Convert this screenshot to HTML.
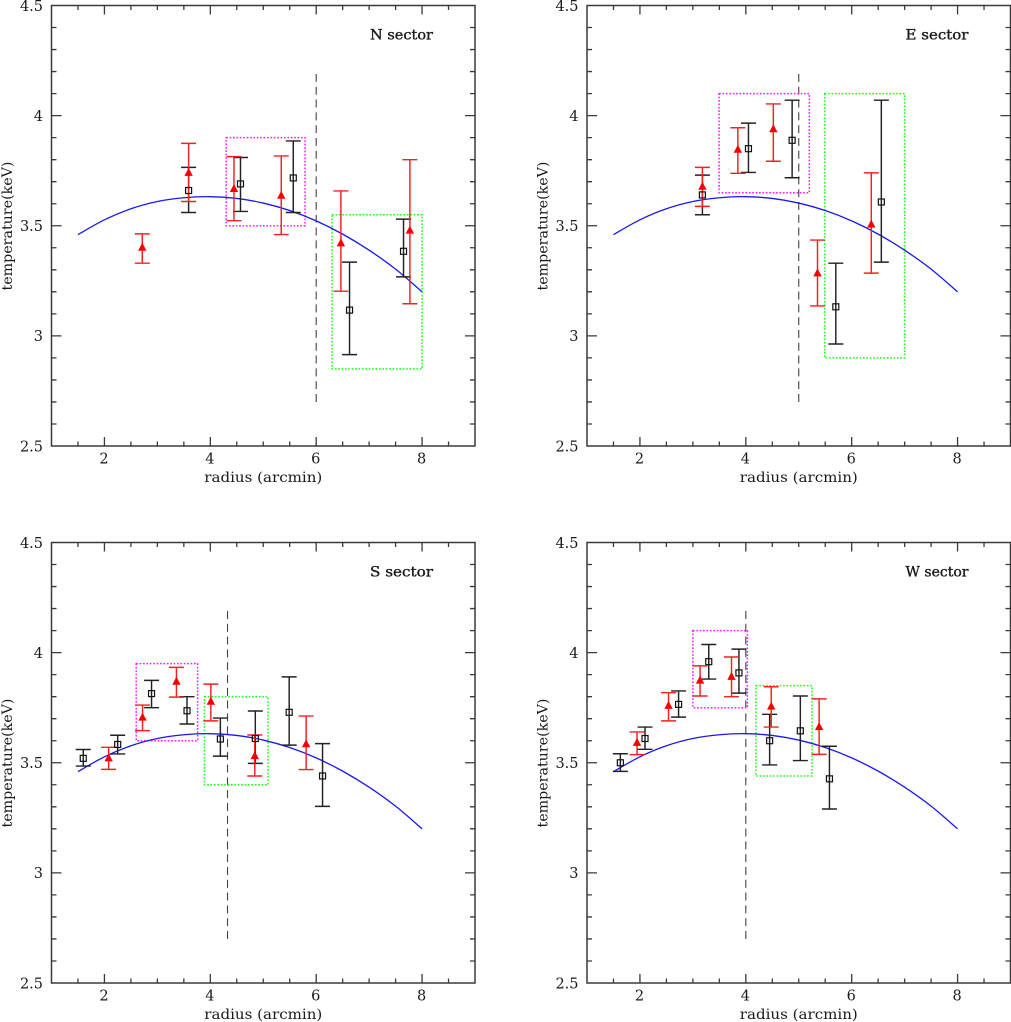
<!DOCTYPE html>
<html>
<head>
<meta charset="utf-8">
<title>Temperature profiles by sector</title>
<style>
html,body{margin:0;padding:0;background:#fff;}
svg{display:block;}
text{font-family:"DejaVu Serif","Liberation Serif",serif;fill:#1a1a1a;}
</style>
</head>
<body>
<svg id="chart" xmlns="http://www.w3.org/2000/svg" width="1011" height="1022" viewBox="0 0 1011 1022"></svg>
<script>
// Shared model curve
const curveRadius = [1.5,2,2.5,3,3.5,4,4.5,5,5.5,6,6.5,7,7.5,8];
const curveTemp = [3.46,3.527,3.577,3.61,3.627,3.632,3.624,3.603,3.569,3.522,3.462,3.389,3.303,3.2];

// Tick labels
const xTickLabels = [2,4,6,8];
const yTickLabels = ["2.5","3","3.5","4","4.5"];
const xMinorTicks = [1.5,2,2.5,3,3.5,4,4.5,5,5.5,6,6.5,7,7.5,8,8.5];
const yMinorTicks = [2.6,2.7,2.8,2.9,3,3.1,3.2,3.3,3.4,3.5,3.6,3.7,3.8,3.9,4,4.1,4.2,4.3,4.4];

// N sector
const nBlackR = [3.59,4.57,5.567,6.63,7.65];
const nBlackT = [3.66,3.69,3.717,3.117,3.384];
const nBlackLo = [3.56,3.565,3.56,2.915,3.268];
const nBlackHi = [3.765,3.81,3.885,3.335,3.53];
const nRedR = [2.715,3.59,4.447,5.34,6.467,7.77];
const nRedT = [3.40,3.74,3.667,3.636,3.42,3.478];
const nRedLo = [3.33,3.61,3.523,3.46,3.203,3.146];
const nRedHi = [3.463,3.874,3.814,3.817,3.658,3.80];
const nMagentaBox = [4.3,5.79,3.5,3.9];
const nGreenBox = [6.3,8,2.85,3.55];
const nDashR = 6;

// E sector
const eBlackR = [3.18,4.05,4.875,5.70,6.56];
const eBlackT = [3.64,3.85,3.888,3.132,3.608];
const eBlackLo = [3.55,3.742,3.718,2.963,3.335];
const eBlackHi = [3.73,3.966,4.07,3.33,4.07];
const eRedR = [3.18,3.85,4.52,5.354,6.37];
const eRedT = [3.677,3.845,3.938,3.284,3.505];
const eRedLo = [3.588,3.738,3.793,3.136,3.285];
const eRedHi = [3.765,3.945,4.053,3.435,3.74];
const eMagentaBox = [3.495,5.2,3.65,4.1];
const eGreenBox = [5.49,7,2.9,4.1];
const eDashR = 5;

// S sector
const sBlackR = [1.6,2.25,2.89,3.56,4.19,4.85,5.49,6.12];
const sBlackT = [3.52,3.583,3.814,3.736,3.608,3.61,3.729,3.44];
const sBlackLo = [3.485,3.54,3.75,3.676,3.53,3.497,3.58,3.302];
const sBlackHi = [3.56,3.625,3.874,3.80,3.703,3.735,3.89,3.587];
const sRedR = [2.08,2.72,3.36,4.01,4.84,5.81];
const sRedT = [3.52,3.705,3.868,3.777,3.53,3.584];
const sRedLo = [3.47,3.646,3.798,3.69,3.44,3.469];
const sRedHi = [3.57,3.762,3.933,3.857,3.626,3.712];
const sMagentaBox = [2.6,3.76,3.6,3.95];
const sGreenBox = [3.89,5.09,3.4,3.8];
const sDashR = 4.325;

// W sector
const wBlackR = [1.63,2.096,2.73,3.30,3.87,4.45,5.03,5.58];
const wBlackT = [3.50,3.61,3.765,3.959,3.908,3.60,3.645,3.427];
const wBlackLo = [3.461,3.561,3.707,3.88,3.816,3.49,3.51,3.29];
const wBlackHi = [3.541,3.662,3.826,4.037,4.016,3.72,3.803,3.575];
const wRedR = [1.945,2.54,3.136,3.73,4.48,5.385];
const wRedT = [3.59,3.758,3.873,3.89,3.755,3.662];
const wRedLo = [3.537,3.69,3.803,3.80,3.662,3.538];
const wRedHi = [3.64,3.818,3.94,3.98,3.845,3.79];
const wMagentaBox = [3.0,4.03,3.75,4.1];
const wGreenBox = [4.19,5.25,3.44,3.85];
const wDashR = 4;

const NS = "http://www.w3.org/2000/svg";
const root = document.getElementById("chart");

function mk(parent, tag, attrs, name) {
  const el = document.createElementNS(NS, tag);
  for (const k in attrs) el.setAttribute(k, attrs[k]);
  
  
  parent.appendChild(el);
  return el;
}

function drawPanel(p) {
  const W = 423.5, H = 440.5;
  const sx = r => p.left + (r - 1) * (W / 8);
  const sy = v => p.top + (4.5 - v) * (H / 2);
  const g = mk(root, "g", {}, p.key + "-sector-panel");

  // ticks
  const axisColor = "#3a3a3a";
  xMinorTicks.forEach(r => {
    const major = xTickLabels.indexOf(r) >= 0;
    const len = major ? 9 : 4.5;
    const d = `M${sx(r)} ${p.top}v${len}M${sx(r)} ${p.top + H}v${-len}`;
    mk(g, "path", {d: d, stroke: axisColor, "stroke-width": 1.3, fill: "none"}, "x-tick");
  });
  yMinorTicks.forEach(v => {
    const major = yTickLabels.indexOf(String(v)) >= 0;
    const len = major ? 10 : 5;
    const d = `M${p.left} ${sy(v)}h${len}M${p.left + W} ${sy(v)}h${-len}`;
    mk(g, "path", {d: d, stroke: axisColor, "stroke-width": 1.3, fill: "none"}, "y-tick");
  });

  // frame
  mk(g, "rect", {x: p.left, y: p.top, width: W, height: H, fill: "none", stroke: axisColor, "stroke-width": 1.5}, "plot-frame");

  // tick labels
  xTickLabels.forEach(r => {
    const t = mk(g, "text", {x: sx(r) - 0.5, y: p.top + H + 17.5, "text-anchor": "middle", "font-size": 14.5}, "x-tick-label");
    t.textContent = r;
  });
  yTickLabels.forEach(v => {
    const t = mk(g, "text", {x: p.left - 8.5, y: sy(parseFloat(v)) + 5.3, "text-anchor": "end", "font-size": 14.5}, "y-tick-label");
    t.textContent = v;
  });

  // axis titles and sector label
  const xt = mk(g, "text", {x: p.left + 211.8, y: p.top + H + 36, "text-anchor": "middle", "font-size": 14, textLength: 118, lengthAdjust: "spacingAndGlyphs"}, "x-axis-title");
  xt.textContent = "radius (arcmin)";
  const ty = p.top + 220.5, tx = p.left - 39.5;
  const yt = mk(g, "text", {x: tx, y: ty, "text-anchor": "middle", "font-size": 14, textLength: 129, lengthAdjust: "spacingAndGlyphs", transform: `rotate(-90 ${tx} ${ty})`}, "y-axis-title");
  yt.textContent = "temperature(keV)";
  const st = mk(g, "text", {x: p.left + 318.5, y: p.top + 33.8, "font-size": 13.5, stroke: "#1a1a1a", "stroke-width": 0.35, textLength: 63, lengthAdjust: "spacingAndGlyphs"}, "sector-label");
  st.textContent = p.key.toUpperCase() + " sector";

  // dashed vertical boundary
  mk(g, "line", {x1: sx(p.dash), x2: sx(p.dash), y1: sy(2.7), y2: sy(4.2), stroke: "#444", "stroke-width": 1.1, "stroke-dasharray": "8 4.8"}, "boundary-dashed-line");

  // dotted boxes
  const box = (b, color, name) => mk(g, "rect", {
    x: sx(b[0]), y: sy(b[3]), width: sx(b[1]) - sx(b[0]), height: sy(b[2]) - sy(b[3]),
    fill: "none", stroke: color, "stroke-width": 1.5, "stroke-dasharray": "1.7 1.7"
  }, name);
  box(p.magenta, "#ff20ff", "magenta-dotted-box");
  box(p.green, "#20ff20", "green-dotted-box");

  // model curve (smoothed through the read points)
  const pts = curveRadius.map((r, i) => [sx(r), sy(curveTemp[i])]);
  let d = `M${pts[0][0]} ${pts[0][1]}`;
  for (let i = 0; i < pts.length - 1; i++) {
    const a = pts[Math.max(i - 1, 0)], b = pts[i], c = pts[i + 1], e = pts[Math.min(i + 2, pts.length - 1)];
    d += `C${b[0] + (c[0] - a[0]) / 6} ${b[1] + (c[1] - a[1]) / 6} ${c[0] - (e[0] - b[0]) / 6} ${c[1] - (e[1] - b[1]) / 6} ${c[0]} ${c[1]}`;
  }
  mk(g, "path", {d: d, fill: "none", stroke: "#1a1aee", "stroke-width": 1.3}, "model-curve");

  // error bars: black bars first, red bars and triangles above them, squares on top
  const errPath = (x, lo, hi) => `M${x} ${lo}V${hi}M${x - 7.5} ${lo}h15M${x - 7.5} ${hi}h15`;
  p.blackR.forEach((r, i) => {
    const x = sx(r);
    mk(g, "path", {d: errPath(x, sy(p.blackLo[i]), sy(p.blackHi[i])), fill: "none", stroke: "#222", "stroke-width": 1.45}, "black-error-bar");
  });
  p.redR.forEach((r, i) => {
    const x = sx(r);
    mk(g, "path", {d: errPath(x, sy(p.redLo[i]), sy(p.redHi[i])), fill: "none", stroke: "#f52020", "stroke-width": 1.45}, "red-error-bar");
    const y = sy(p.redT[i]);
    mk(g, "path", {d: `M${x} ${y - 5}L${x + 4.2} ${y + 3}L${x - 4.2} ${y + 3}Z`, fill: "#f80000"}, "red-triangle-point");
  });
  p.blackR.forEach((r, i) => {
    const x = sx(r);
    const y = sy(p.blackT[i]);
    mk(g, "rect", {x: x - 3, y: y - 3, width: 6, height: 6, fill: "none", stroke: "#111", "stroke-width": 1.2}, "black-square-point");
  });
}

drawPanel({key: "n", left: 51.5, top: 5.5, dash: nDashR, magenta: nMagentaBox, green: nGreenBox,
  blackR: nBlackR, blackT: nBlackT, blackLo: nBlackLo, blackHi: nBlackHi,
  redR: nRedR, redT: nRedT, redLo: nRedLo, redHi: nRedHi});
drawPanel({key: "e", left: 587, top: 5.5, dash: eDashR, magenta: eMagentaBox, green: eGreenBox,
  blackR: eBlackR, blackT: eBlackT, blackLo: eBlackLo, blackHi: eBlackHi,
  redR: eRedR, redT: eRedT, redLo: eRedLo, redHi: eRedHi});
drawPanel({key: "s", left: 51.5, top: 542.5, dash: sDashR, magenta: sMagentaBox, green: sGreenBox,
  blackR: sBlackR, blackT: sBlackT, blackLo: sBlackLo, blackHi: sBlackHi,
  redR: sRedR, redT: sRedT, redLo: sRedLo, redHi: sRedHi});
drawPanel({key: "w", left: 587, top: 542.5, dash: wDashR, magenta: wMagentaBox, green: wGreenBox,
  blackR: wBlackR, blackT: wBlackT, blackLo: wBlackLo, blackHi: wBlackHi,
  redR: wRedR, redT: wRedT, redLo: wRedLo, redHi: wRedHi});
</script>
</body>
</html>
